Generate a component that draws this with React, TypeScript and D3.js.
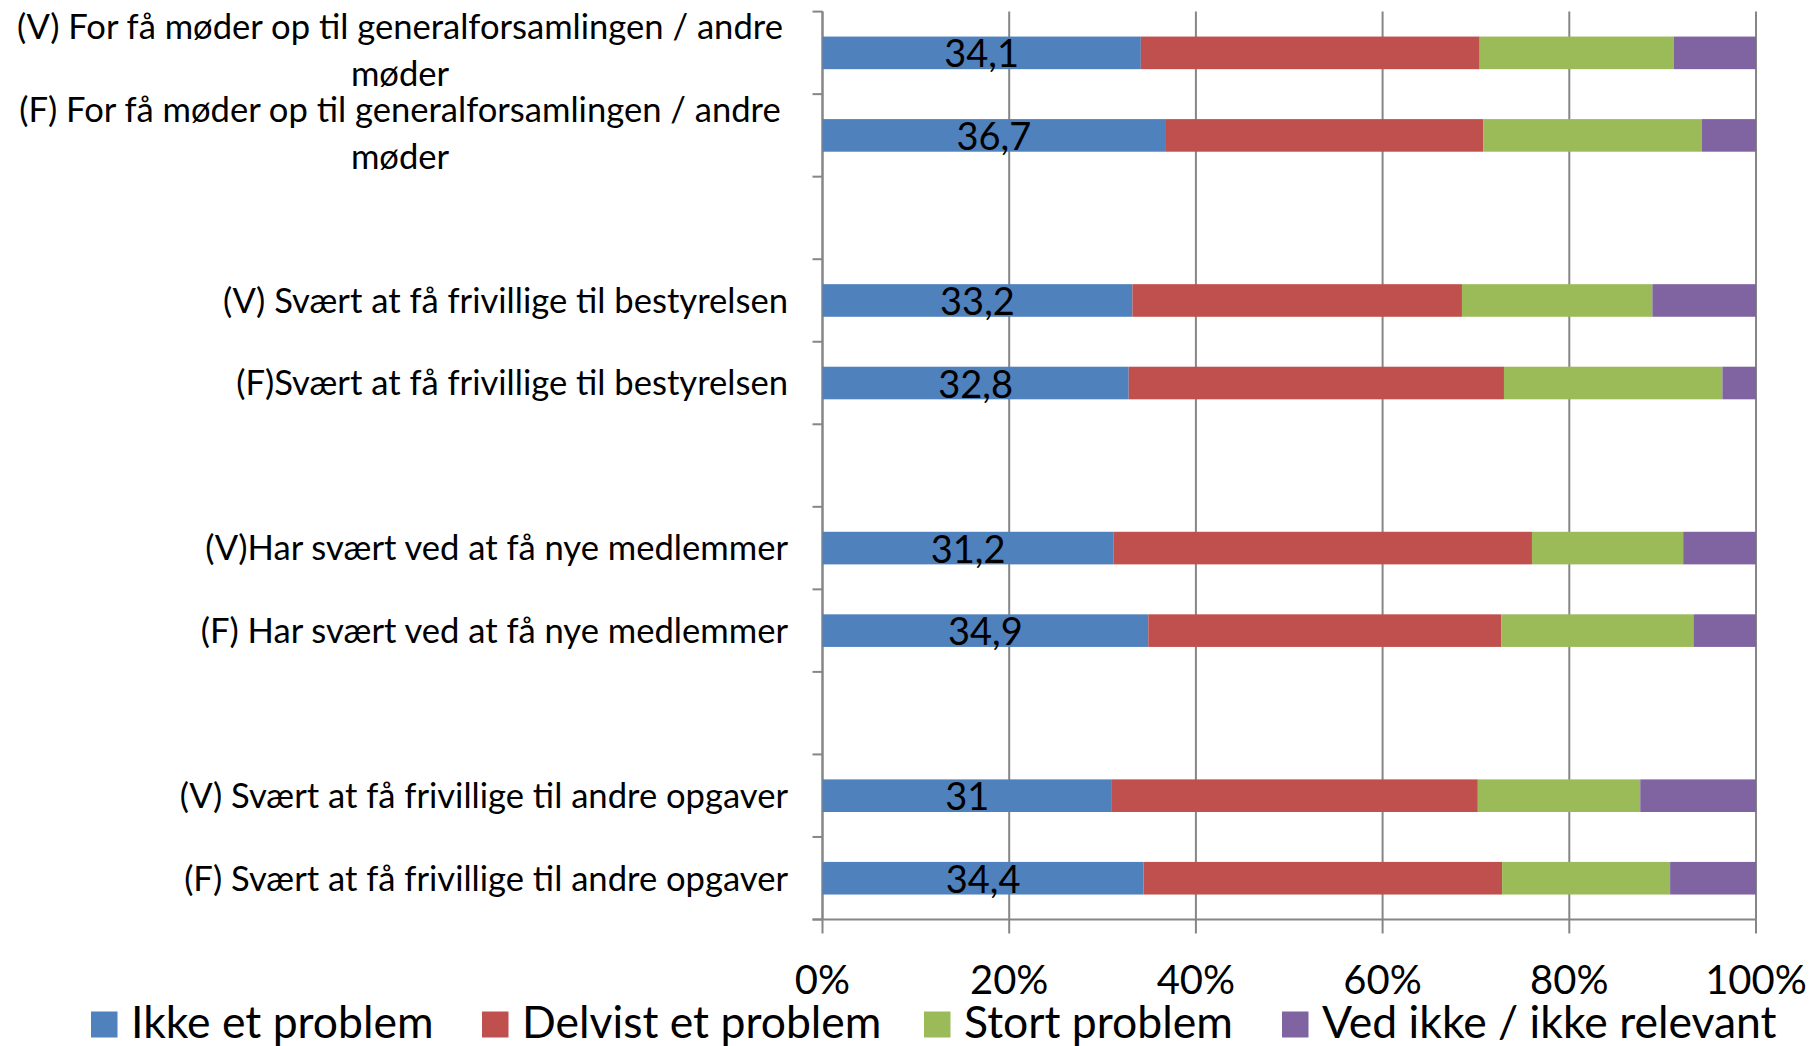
import React from "react";
import * as d3 from "d3";

// categories, top to bottom (\n = line break as in the original chart)
const categories = [
  "(V) For få møder op til generalforsamlingen / andre\nmøder",
  "(F) For få møder op til generalforsamlingen / andre\nmøder",
  "(V) Svært at få frivillige til bestyrelsen",
  "(F)Svært at få frivillige til bestyrelsen",
  "(V)Har svært ved at få nye medlemmer",
  "(F) Har svært ved at få nye medlemmer",
  "(V) Svært at få frivillige til andre opgaver",
  "(F) Svært at få frivillige til andre opgaver",
];

const seriesNames = ["Ikke et problem", "Delvist et problem", "Stort problem", "Ved ikke / ikke relevant"];
const seriesColors = ["#4F81BD", "#C0504D", "#9BBB59", "#8064A2"];

const ikkeEtProblem = [34.1, 36.7, 33.2, 32.8, 31.2, 34.9, 31.0, 34.4];
const delvistEtProblem = [36.3, 34.1, 35.3, 40.2, 44.8, 37.8, 39.2, 38.4];
const stortProblem = [20.8, 23.4, 20.4, 23.4, 16.2, 20.6, 17.4, 18.0];
const vedIkke = [8.8, 5.8, 11.1, 3.6, 7.8, 6.7, 12.4, 9.2];

const xTicks = [0, 20, 40, 60, 80, 100];

const W = 1816;
const H = 1046;
const FONT = "Lato, 'Open Sans', sans-serif";
const GRID = "#868686";

export default function App() {
  const values = [ikkeEtProblem, delvistEtProblem, stortProblem, vedIkke];
  const rows = categories.map((c, i) => {
    const r: any = { idx: i, name: c };
    seriesNames.forEach((s, j) => (r[s] = values[j][i]));
    return r;
  });
  const stacked = d3.stack().keys(seriesNames)(rows);

  // 8 bars in pairs, with an empty slot between the pairs
  const slotOf = (i: number) => i + Math.floor(i / 2);
  const nSlots = slotOf(categories.length - 1) + 1;

  const x = d3.scaleLinear().domain([0, 100]).range([822.5, 1756]);
  const y = d3.scaleBand<number>().domain(d3.range(nSlots)).range([11.6, 919.5]);
  const bw = y.bandwidth();
  const barH = bw * 0.395;
  const yTop = y.range()[0];
  const yBot = y.range()[1];

  const fmt = (v: number) => String(v).replace(".", ",");
  const legendX = [91, 482, 924, 1282];

  return (
    <svg width={W} height={H} style={{ position: "absolute", left: 0, top: 0, background: "#fff" }}
      fontFamily={FONT}>
      {/* vertical gridlines */}
      {xTicks.map((t) => (
        <line key={"g" + t} x1={x(t)} x2={x(t)} y1={yTop} y2={yBot + 14} stroke={GRID} strokeWidth={2} />
      ))}
      {/* category axis */}
      <line x1={x(0)} x2={x(0)} y1={yTop} y2={yBot} stroke={GRID} strokeWidth={2} />
      {d3.range(nSlots + 1).map((k) => (
        <line key={"t" + k} x1={x(0) - 10} x2={x(0)} y1={yTop + k * bw} y2={yTop + k * bw}
          stroke={GRID} strokeWidth={2} />
      ))}
      {/* value axis line */}
      <line x1={x(0) - 10} x2={x(100)} y1={yBot} y2={yBot} stroke={GRID} strokeWidth={2} />

      {/* bars */}
      {stacked.map((s, j) => (
        <g key={s.key} fill={seriesColors[j]}>
          {s.map((d: any, i: number) => {
            const cy = (y(slotOf(i)) as number) + bw / 2;
            return (
              <rect key={i} x={x(d[0])} width={x(d[1]) - x(d[0])} y={cy - barH / 2} height={barH} />
            );
          })}
        </g>
      ))}

      {/* data labels for first series */}
      {stacked[0].map((d: any, i: number) => {
        const cy = (y(slotOf(i)) as number) + bw / 2;
        return (
          <text key={"v" + i} x={(x(d[0]) + x(d[1])) / 2} y={cy + 14.5} textAnchor="middle"
            fontSize={38} fill="#000">
            {fmt(ikkeEtProblem[i])}
          </text>
        );
      })}

      {/* category labels */}
      {categories.map((c, i) => {
        const cy = (y(slotOf(i)) as number) + bw / 2;
        const lines = c.split("\n");
        if (lines.length === 1) {
          return (
            <text key={"c" + i} x={788} y={cy + 12.4} textAnchor="end" fontSize={34.6} fill="#000">
              {c}
            </text>
          );
        }
        return (
          <text key={"c" + i} x={400} textAnchor="middle" fontSize={34.6} fill="#000">
            {lines.map((l, k) => (
              <tspan key={k} x={400} y={cy - 13.6 + k * 46.7}>{l}</tspan>
            ))}
          </text>
        );
      })}

      {/* x tick labels */}
      {xTicks.map((t) => (
        <text key={"x" + t} x={x(t)} y={994} textAnchor="middle" fontSize={40} fill="#000">
          {t + "%"}
        </text>
      ))}

      {/* legend */}
      {seriesNames.map((s, j) => (
        <g key={"l" + j}>
          <rect x={legendX[j]} y={1011.5} width={26.5} height={26} fill={seriesColors[j]} />
          <text x={legendX[j] + 40} y={1037.5} fontSize={44.5} fill="#000">{s}</text>
        </g>
      ))}
    </svg>
  );
}
